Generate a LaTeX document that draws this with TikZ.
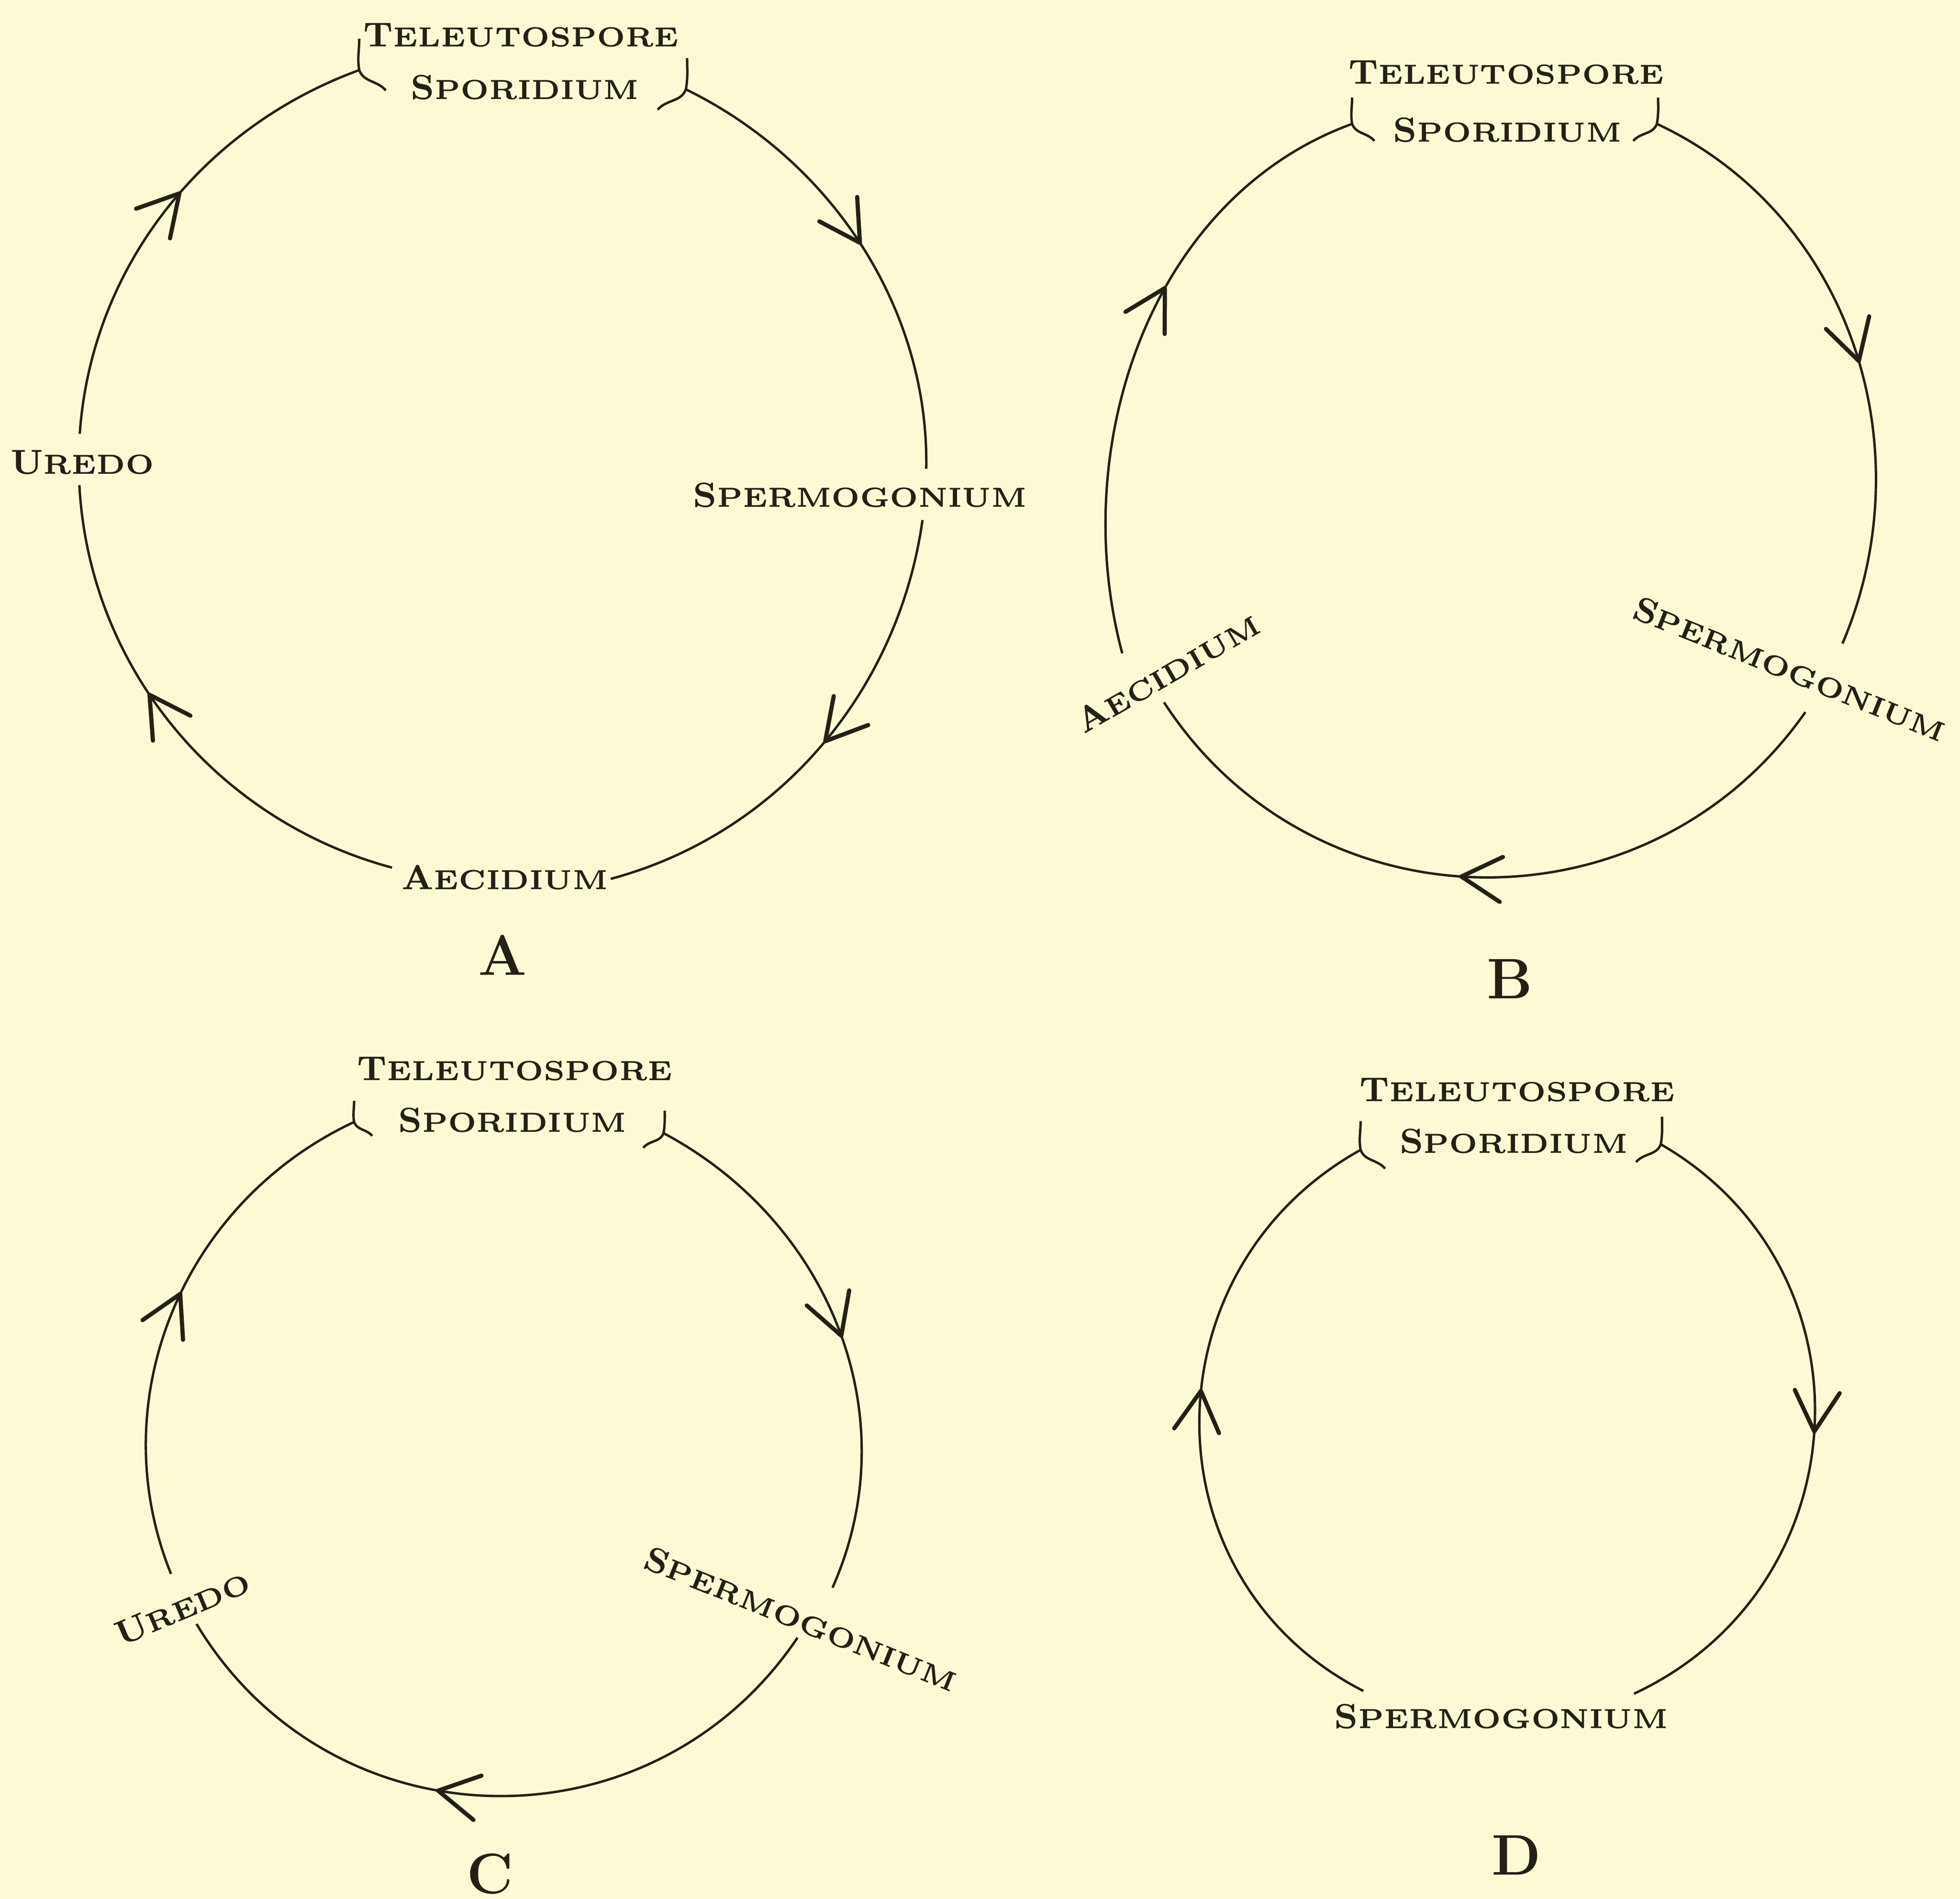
\documentclass[tikz,border=0pt]{standalone}
\usepackage{fontspec}
\usepackage{xcolor}
\usetikzlibrary{arrows.meta, decorations.markings}

\definecolor{paper}{RGB}{251,250,213}
\definecolor{ink}{RGB}{36,32,22}

\tikzset{flowtip/.tip={Straight Barb[length=3.2mm, width=3.6mm, line width=0.95pt, round]}}

% large initial followed by small capitals
\newcommand{\scap}[2]{{\fontsize{7.9}{9}\selectfont\addfontfeature{LetterSpace=8}#1}{\fontsize{6.3}{8}\selectfont\addfontfeature{LetterSpace=11}#2}}
% bracket caps where the cycle meets the top label
\newcommand{\capL}[2]{\draw[cyc] (#1) ++(0,#2) to[out=-90,in=100] (#1) to[out=-70,in=130] ++({0.85*#2},{-0.65*#2});}
\newcommand{\capR}[2]{\draw[cyc] (#1) ++(1,#2) to[out=-90,in=80] (#1) to[out=-110,in=50] ++({-0.9*#2},{-0.65*#2});}

\begin{document}
\begin{tikzpicture}[x=0.01cm, y=0.01cm,
    cyc/.style={draw=ink, color=ink, line width=0.55pt},
    flow/.style={cyc, postaction={decorate}, decoration={markings, mark=at position #1 with {\arrow{flowtip}}}},
    lab/.style={text=ink, font=\bfseries, inner sep=0pt},
    fig/.style={text=ink, font=\fontsize{13}{15}\selectfont\bfseries, inner sep=0pt}]
    \useasboundingbox (0,0) rectangle (1568,-1519);
    \fill[paper] (0,0) rectangle (1568,-1519);

    \foreach \n/\tx/\ty/\sx/\sy in {A/417/-28/420/-70, B/1205/-58/1206/-104, C/412/-855/410/-896, D/1214/-872/1211/-913} {
        \node[lab] (\n-ts) at (\tx,\ty) {\scap{T}{ELEUTOSPORE}};
        \node[lab] (\n-sp) at (\sx,\sy) {\scap{S}{PORIDIUM}};
    }
    \foreach \n/\x/\y in {A/402/-764, B/1208/-783, C/392/-1499, D/1213/-1484}
        \node[fig] (\n) at (\x,\y) {\n};

    % A
    \node[lab] (A-ur) at (66,-370) {\scap{U}{REDO}};
    \node[lab] (A-sg) at (688,-396) {\scap{S}{PERMOGONIUM}};
    \node[lab] (A-ae) at (404,-702) {\scap{A}{ECIDIUM}};
    \coordinate (A-tr) at (548.7,-71.5);
    \coordinate (A-s1) at (741,-375);
    \coordinate (A-s2) at (738,-416);
    \coordinate (A-a1) at (488.6,-703);
    \coordinate (A-a2) at (313.6,-694);
    \coordinate (A-u1) at (63.5,-388);
    \coordinate (A-u2) at (63.8,-347);
    \coordinate (A-tl) at (287.4,-56.1);
    \draw[flow=0.5] (A-tr) to[out=-26, in=89, looseness=0.92] (A-s1);
    \draw[flow=0.49] (A-s2) to[out=-98, in=15, looseness=0.93] (A-a1);
    \draw[flow=0.58] (A-a2) to[out=165, in=-87, looseness=0.94] (A-u1);
    \draw[flow=0.55] (A-u2) to[out=86, in=200, looseness=0.93] (A-tl);
    \capL{A-tl}{25}
    \capR{A-tr}{25}

    % B
    \node[lab, rotate=30] (B-ae) at (934,-538) {\scap{A}{ECIDIUM}};
    \node[lab, rotate=-22] (B-sg) at (1432,-535) {\scap{S}{PERMOGONIUM}};
    \coordinate (B-tr) at (1325.5,-99.1);
    \coordinate (B-s1) at (1474,-514.8);
    \coordinate (B-s2) at (1444.3,-569.6);
    \coordinate (B-a2) at (931.2,-561.8);
    \coordinate (B-a1) at (897.8,-522.6);
    \coordinate (B-tl) at (1081.7,-99.1);
    \draw[flow=0.53] (B-tr) to[out=-25, in=67, looseness=0.99] (B-s1);
    \draw[flow=0.53] (B-s2) to[out=-125, in=-57, looseness=1.09] (B-a2);
    \draw[flow=0.6] (B-a1) to[out=105, in=200, looseness=0.95] (B-tl);
    \capL{B-tl}{21}
    \capR{B-tr}{21}

    % C
    \node[lab, rotate=23] (C-ur) at (146,-1286) {\scap{U}{REDO}};
    \node[lab, rotate=-22] (C-sg) at (641,-1295) {\scap{S}{PERMOGONIUM}};
    \coordinate (C-tr) at (530.8,-906.4);
    \coordinate (C-s1) at (666,-1270);
    \coordinate (C-s2) at (638,-1310);
    \coordinate (C-u2) at (157.2,-1299);
    \coordinate (C-u1) at (136.8,-1259);
    \coordinate (C-tl) at (283.3,-897.5);
    \draw[flow=0.52] (C-tr) to[out=-28, in=66, looseness=0.99] (C-s1);
    \draw[flow=0.58] (C-s2) to[out=-124, in=-59, looseness=1.11] (C-u2);
    \draw[flow=0.54] (C-u1) to[out=112, in=205, looseness=0.99] (C-tl);
    \capL{C-tl}{17}
    \capR{C-tr}{18}

    % D
    \node[lab] (D-sg) at (1201,-1373) {\scap{S}{PERMOGONIUM}};
    \coordinate (D-tr) at (1328.6,-915.3);
    \coordinate (D-s1) at (1307.2,-1354.8);
    \coordinate (D-s2) at (1090.7,-1352.6);
    \coordinate (D-tl) at (1088.5,-919.8);
    \draw[flow=0.51] (D-tr) to[out=-30, in=25, looseness=1.17] (D-s1);
    \draw[flow=0.55] (D-s2) to[out=153, in=209, looseness=1.16] (D-tl);
    \capL{D-tl}{23}
    \capR{D-tr}{22}
\end{tikzpicture}
\end{document}
